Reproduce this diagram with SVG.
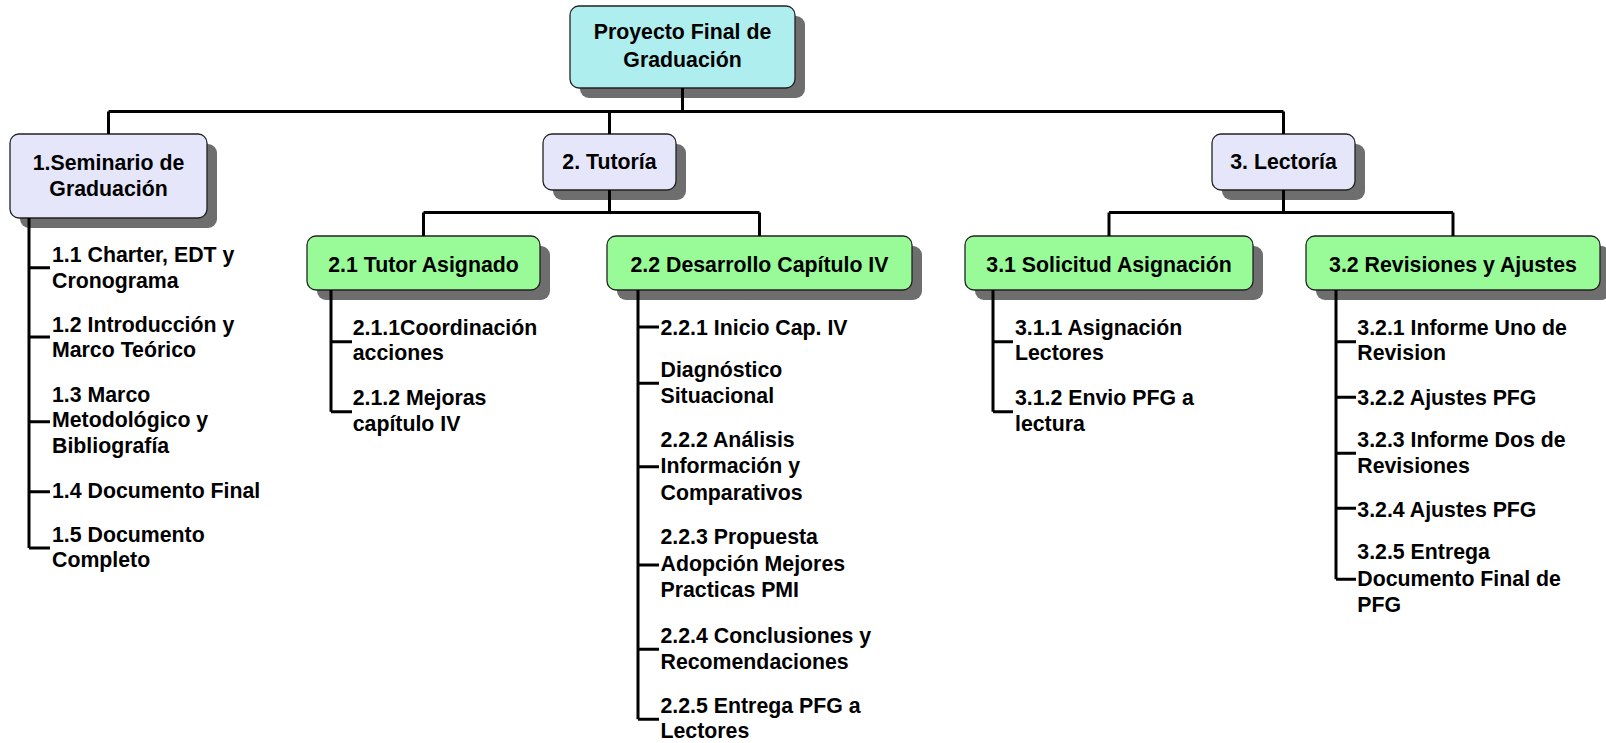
<svg xmlns="http://www.w3.org/2000/svg" width="1606" height="743" viewBox="0 0 1606 743">
<style>
.sh{fill:#6e6e6e}
.box{stroke:#222;stroke-width:1.3}
.root{fill:#afeeee}
.l1{fill:#e6e6fa}
.l2{fill:#98fb98}
text{font-family:"Liberation Sans",Arial,sans-serif;font-weight:bold;font-size:21.3px;fill:#000}
.c{text-anchor:middle}
.ln{stroke:#000;stroke-width:3;fill:none}
</style>
<rect width="1606" height="743" fill="#fff"/>
<g id="n0">
<rect class="sh" x="580" y="16" width="225" height="82" rx="9"/>
<rect class="box root" x="570" y="6" width="225" height="82" rx="9"/>
<text class="c" x="682.5" y="39">Proyecto Final de</text>
<text class="c" x="682.5" y="67">Graduación</text>
</g>
<g id="n1">
<rect class="sh" x="20" y="144" width="197" height="84" rx="9"/>
<rect class="box l1" x="10" y="134" width="197" height="84" rx="9"/>
<text class="c" x="108.5" y="170">1.Seminario de</text>
<text class="c" x="108.5" y="196">Graduación</text>
</g>
<g id="n2">
<rect class="sh" x="553" y="144" width="133" height="56" rx="9"/>
<rect class="box l1" x="543" y="134" width="133" height="56" rx="9"/>
<text class="c" x="609.5" y="169">2. Tutoría</text>
</g>
<g id="n3">
<rect class="sh" x="1222" y="144" width="143" height="56" rx="9"/>
<rect class="box l1" x="1212" y="134" width="143" height="56" rx="9"/>
<text class="c" x="1283.5" y="169">3. Lectoría</text>
</g>
<g id="n21">
<rect class="sh" x="317" y="246" width="233" height="54" rx="9"/>
<rect class="box l2" x="307" y="236" width="233" height="54" rx="9"/>
<text class="c" x="423.5" y="271.5">2.1 Tutor Asignado</text>
</g>
<g id="n22">
<rect class="sh" x="617" y="246" width="305" height="54" rx="9"/>
<rect class="box l2" x="607" y="236" width="305" height="54" rx="9"/>
<text class="c" x="759.5" y="271.5">2.2 Desarrollo Capítulo IV</text>
</g>
<g id="n31">
<rect class="sh" x="975" y="246" width="288" height="54" rx="9"/>
<rect class="box l2" x="965" y="236" width="288" height="54" rx="9"/>
<text class="c" x="1109" y="271.5">3.1 Solicitud Asignación</text>
</g>
<g id="n32">
<rect class="sh" x="1316" y="246" width="294" height="54" rx="9"/>
<rect class="box l2" x="1306" y="236" width="294" height="54" rx="9"/>
<text class="c" x="1453" y="271.5">3.2 Revisiones y Ajustes</text>
</g>
<g id="leaves1">
<text x="52" y="262">1.1 Charter, EDT y</text>
<text x="52" y="288">Cronograma</text>
<text x="52" y="331.7">1.2 Introducción y</text>
<text x="52" y="357.3">Marco Teórico</text>
<text x="52" y="401.7">1.3 Marco</text>
<text x="52" y="427.3">Metodológico y</text>
<text x="52" y="453">Bibliografía</text>
<text x="52" y="498.3">1.4 Documento Final</text>
<text x="52" y="541.7">1.5 Documento</text>
<text x="52" y="566.7">Completo</text>
</g>
<g id="leaves21">
<text x="352.7" y="335">2.1.1Coordinación</text>
<text x="352.7" y="360">acciones</text>
<text x="352.7" y="405">2.1.2 Mejoras</text>
<text x="352.7" y="431">capítulo IV</text>
</g>
<g id="leaves22">
<text x="660.5" y="335">2.2.1 Inicio Cap. IV</text>
<text x="660.5" y="376.7">Diagnóstico</text>
<text x="660.5" y="403.3">Situacional</text>
<text x="660.5" y="446.7">2.2.2 Análisis</text>
<text x="660.5" y="473.3">Información y</text>
<text x="660.5" y="500">Comparativos</text>
<text x="660.5" y="544">2.2.3 Propuesta</text>
<text x="660.5" y="571">Adopción Mejores</text>
<text x="660.5" y="597.3">Practicas PMI</text>
<text x="660.5" y="642.7">2.2.4 Conclusiones y</text>
<text x="660.5" y="669.3">Recomendaciones</text>
<text x="660.5" y="712.7">2.2.5 Entrega PFG a</text>
<text x="660.5" y="738">Lectores</text>
</g>
<g id="leaves31">
<text x="1015" y="335">3.1.1 Asignación</text>
<text x="1015" y="360">Lectores</text>
<text x="1015" y="405">3.1.2 Envio PFG a</text>
<text x="1015" y="431">lectura</text>
</g>
<g id="leaves32">
<text x="1357.3" y="335">3.2.1 Informe Uno de</text>
<text x="1357.3" y="360">Revision</text>
<text x="1357.3" y="405">3.2.2 Ajustes PFG</text>
<text x="1357.3" y="446.7">3.2.3 Informe Dos de</text>
<text x="1357.3" y="472.7">Revisiones</text>
<text x="1357.3" y="516.7">3.2.4 Ajustes PFG</text>
<text x="1357.3" y="559.3">3.2.5 Entrega</text>
<text x="1357.3" y="586">Documento Final de</text>
<text x="1357.3" y="611.7">PFG</text>
</g>
<g id="connectors" class="ln">
<path d="M682.5 88V111.5M108.5 111.5H1283.5M108.5 111.5V134M609.5 111.5V134M1283.5 111.5V134"/>
<path d="M609.5 190V212.5M423.5 212.5H759.5M423.5 212.5V236M759.5 212.5V236"/>
<path d="M1283.5 190V212.5M1109 212.5H1453M1109 212.5V236M1453 212.5V236"/>
<path d="M29 218V548M29 267.7H50M29 337H50M29 421.7H50M29 491.7H50M29 548H50"/>
<path d="M331 290V411.7M331 341.7H352M331 411.7H352"/>
<path d="M638 290V719.3M638 327H659M638 383.3H659M638 466.7H659M638 565H659M638 649.3H659M638 719.3H659"/>
<path d="M993 290V411.7M993 341.7H1013M993 411.7H1013"/>
<path d="M1336 290V579.3M1336 341.7H1356M1336 397.3H1356M1336 453.3H1356M1336 508.3H1356M1336 579.3H1356"/>
</g>
</svg>
